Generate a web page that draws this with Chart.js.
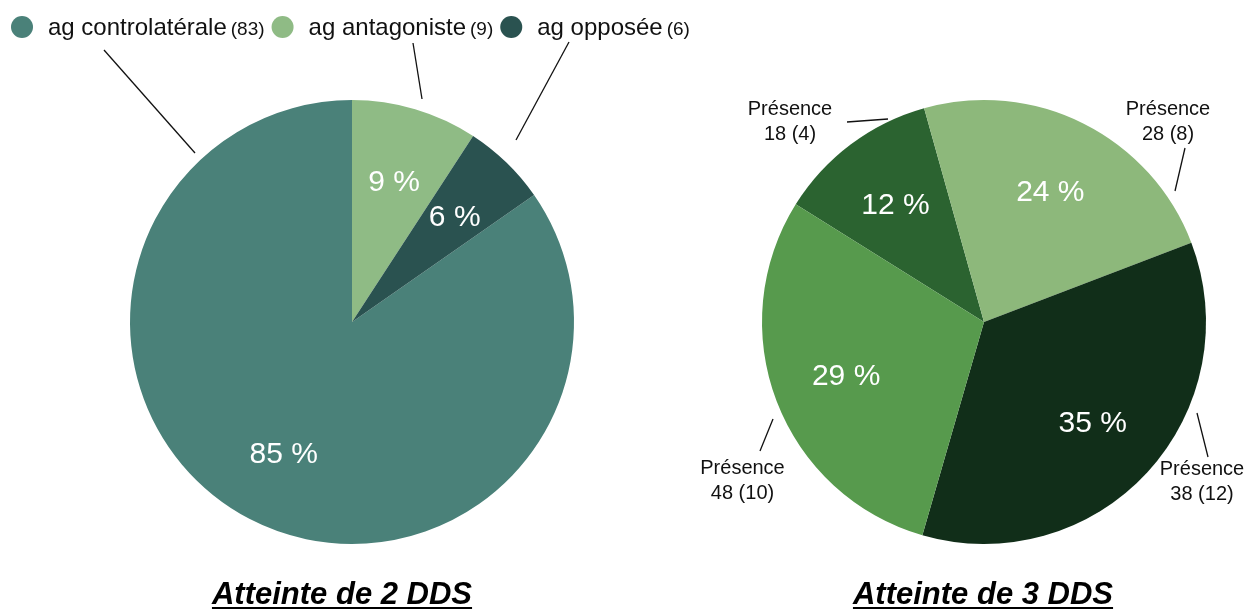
<!DOCTYPE html>
<html lang="fr">
<head>
<meta charset="utf-8">
<title>Atteinte DDS</title>
<script src="https://cdn.jsdelivr.net/npm/chart.js@4.4.1/dist/chart.umd.min.js"></script>
<style>
  html, body { margin: 0; padding: 0; background: #fff; }
  #page { position: relative; width: 1249px; height: 610px; overflow: hidden; }
  .box { position: absolute; top: 0; height: 610px; }
  #box2 { left: 0; width: 704px; }
  #box3 { left: 680px; width: 569px; }
  .title {
    position: absolute; top: 578px; transform: translateX(-50%);
    font: italic bold 31px/31px 'Liberation Sans', Arial, sans-serif;
    text-decoration: underline; text-decoration-thickness: 2px; text-underline-offset: 3px;
    white-space: nowrap; color: #000;
  }
</style>
</head>
<body>
<div id="page">
  <div class="box" id="box2"><canvas id="chart2"></canvas></div>
  <div class="box" id="box3"><canvas id="chart3"></canvas></div>
  <div class="title" style="left:342px">Atteinte de 2 DDS</div>
  <div class="title" style="left:983px">Atteinte de 3 DDS</div>
</div>
<script>
// --- 1. DONNÉES ---
const leftLabels = ['ag controlatérale', 'ag antagoniste', 'ag opposée'];
const leftValues = [83, 9, 6];
const leftColors = ['#4a8179', '#8fbb85', '#2a5250'];

const rightLabels = ['Présence 18', 'Présence 28', 'Présence 38', 'Présence 48'];
const rightValues = [4, 8, 12, 10];
const rightColors = ['#2b6330', '#8db87b', '#112e19', '#579a4d'];

// --- 2. MISE EN PAGE DES ÉTIQUETTES (px, relatifs au centre du camembert) ---
const leftLeaders = [[-248, -272, -157, -169], [61, -279, 70, -223], [217, -280, 164, -182]];
const rightLeaders = [[-137, -200, -96, -203], [201, -174, 191, -131], [213, 91, 224, 135], [-211, 97, -224, 129]];
const rightTextPos = [[-194, -207], [184, -207], [218, 153], [-241.5, 152]];

const FONT = '"Liberation Sans", Arial, sans-serif';

// --- 3. PLUGIN : pourcentages, traits de rappel, étiquettes, légende ---
const pieLabelsPlugin = {
    id: 'pieLabels',
    afterDatasetsDraw(chart, args, opts) {
        const ctx = chart.ctx;
        const meta = chart.getDatasetMeta(0);
        const values = chart.data.datasets[0].data;
        const colors = chart.data.datasets[0].backgroundColor;
        const total = values.reduce((a, b) => a + b, 0);

        ctx.save();
        meta.data.forEach((arc, i) => {
            const p = arc.getProps(['x', 'y', 'startAngle', 'endAngle', 'outerRadius'], true);
            const mid = (p.startAngle + p.endAngle) / 2;
            const r = p.outerRadius * 0.665;

            // pourcentage dans la part
            ctx.fillStyle = '#fff';
            ctx.font = '30px ' + FONT;
            ctx.textAlign = 'center';
            ctx.textBaseline = 'alphabetic';
            ctx.fillText(Math.round(values[i] / total * 100) + ' %',
                p.x + Math.cos(mid) * r, p.y + Math.sin(mid) * r + 10.5);

            // trait de rappel
            const l = opts.leaders[i];
            ctx.strokeStyle = '#111';
            ctx.lineWidth = 1.3;
            ctx.beginPath();
            ctx.moveTo(p.x + l[0], p.y + l[1]);
            ctx.lineTo(p.x + l[2], p.y + l[3]);
            ctx.stroke();

            // étiquette extérieure sur deux lignes
            if (opts.textPos) {
                const t = opts.textPos[i];
                const parts = chart.data.labels[i].split(' ');
                ctx.fillStyle = '#111';
                ctx.font = '20px ' + FONT;
                ctx.fillText(parts[0], p.x + t[0], p.y + t[1]);
                ctx.fillText(parts[1] + ' (' + values[i] + ')', p.x + t[0], p.y + t[1] + 25);
            }
        });

        // légende en haut (camembert de gauche)
        if (opts.legend) {
            let x = 11;
            const y = 27;
            ctx.textAlign = 'left';
            chart.data.labels.forEach((lab, i) => {
                ctx.fillStyle = colors[i];
                ctx.beginPath();
                ctx.arc(x + 11, y, 11, 0, Math.PI * 2);
                ctx.fill();
                x += 37;
                ctx.fillStyle = '#111';
                ctx.font = '24px ' + FONT;
                ctx.fillText(lab, x, y + 8);
                x += ctx.measureText(lab).width + 4;
                const count = '(' + values[i] + ')';
                ctx.font = '19px ' + FONT;
                ctx.fillText(count, x, y + 8);
                x += ctx.measureText(count).width + 7;
            });
        }
        ctx.restore();
    }
};

// --- 4. CRÉATION DES GRAPHIQUES ---
function makePie(id, labels, values, colors, rotation, padding, labelOpts) {
    return new Chart(document.getElementById(id), {
        type: 'pie',
        data: {
            labels: labels,
            datasets: [{ data: values, backgroundColor: colors, borderWidth: 0 }]
        },
        options: {
            responsive: true,
            maintainAspectRatio: false,
            animation: false,
            rotation: rotation,
            layout: { padding: padding },
            plugins: {
                legend: { display: false },
                tooltip: { enabled: false },
                pieLabels: labelOpts
            }
        },
        plugins: [pieLabelsPlugin]
    });
}

const leftTotal = leftValues.reduce((a, b) => a + b, 0);
// la part "controlatérale" commence après les deux petites parts
const leftRotation = (leftValues[1] + leftValues[2]) / leftTotal * 360;

makePie('chart2', leftLabels, leftValues, leftColors, leftRotation,
    { left: 130, right: 130, top: 100, bottom: 66 },
    { leaders: leftLeaders, legend: true });

makePie('chart3', rightLabels, rightValues, rightColors, -58,
    { left: 82, right: 43, top: 100, bottom: 66 },
    { leaders: rightLeaders, textPos: rightTextPos });
</script>
</body>
</html>
